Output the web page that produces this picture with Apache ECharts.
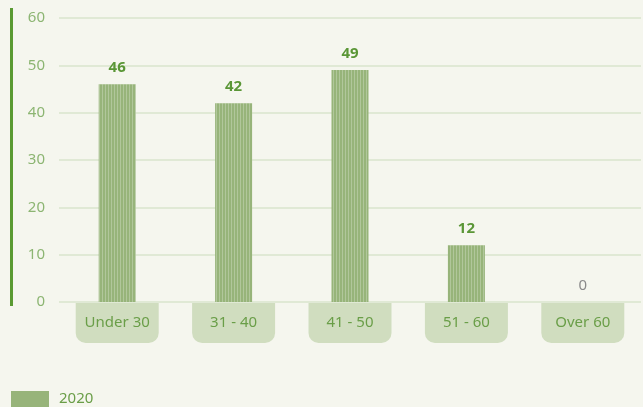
<!DOCTYPE html>
<html style="height: 100%">

<head>
  <meta charset="UTF-8" />
  <title>Age groups 2020</title>
  <script src="https://cdn.jsdelivr.net/npm/echarts@6/dist/echarts.min.js"></script>
</head>

<body style="height: 100%; margin: 0; background: #f5f6ee">
  <div id="main" style="width: 643px; height: 407px"></div>
  <script>
    const categories = ['Under 30', '31 - 40', '41 - 50', '51 - 60', 'Over 60'];
    const values2020 = [46, 42, 49, 12, 0];
    const seriesName = '2020';

    const chart = echarts.init(document.getElementById('main'));

    const option = {
      backgroundColor: '#f5f6ee',
      textStyle: { fontFamily: 'Noto Sans' },
      animation: false,
      grid: { left: 59, right: 2, top: 18, bottom: 105 },
      legend: {
        left: 6,
        top: 386,
        itemWidth: 38,
        itemHeight: 16,
        itemGap: 10,
        textStyle: { fontSize: 15, color: '#6a9e48', padding: [0, 0, 0, 5] },
        data: [{ name: seriesName, icon: 'rect', itemStyle: { decal: 'none' } }]
      },
      // thick green bar on the far left
      graphic: [{
        type: 'rect',
        left: 10,
        top: 8,
        shape: { width: 3, height: 298 },
        style: { fill: '#5a9a32' }
      }],
      xAxis: {
        type: 'category',
        data: categories,
        axisLine: { show: false },
        axisTick: { show: false },
        axisLabel: {
          margin: 1,
          fontSize: 15,
          color: '#6a9e48',
          backgroundColor: '#d0ddbf',
          borderRadius: [0, 0, 10, 10],
          width: 83,
          lineHeight: 20,
          padding: [10, 0],
          align: 'center'
        }
      },
      yAxis: {
        type: 'value',
        min: 0,
        max: 60,
        interval: 10,
        axisLine: { show: false },
        axisTick: { show: false },
        axisLabel: { margin: 14, fontSize: 15, color: '#8cb572' },
        splitLine: { lineStyle: { color: '#d9e4cc', width: 1.5 } }
      },
      series: [{
        name: seriesName,
        type: 'bar',
        barWidth: 37,
        data: values2020,
        itemStyle: {
          color: '#97b47a',
          decal: {
            symbol: 'rect',
            symbolSize: 1,
            dashArrayX: [1, 2],
            dashArrayY: [10, 0],
            color: 'rgba(255,255,255,0.25)'
          }
        },
        label: {
          show: true,
          position: 'top',
          distance: 9,
          formatter: p => p.value === 0 ? '{z|0}' : '{v|' + p.value + '}',
          rich: {
            v: { fontSize: 15, fontWeight: 'bold', color: '#5a9636' },
            z: { fontSize: 15, color: '#8a8a8a' }
          }
        }
      }]
    };

    chart.setOption(option);
  </script>
</body>

</html>
